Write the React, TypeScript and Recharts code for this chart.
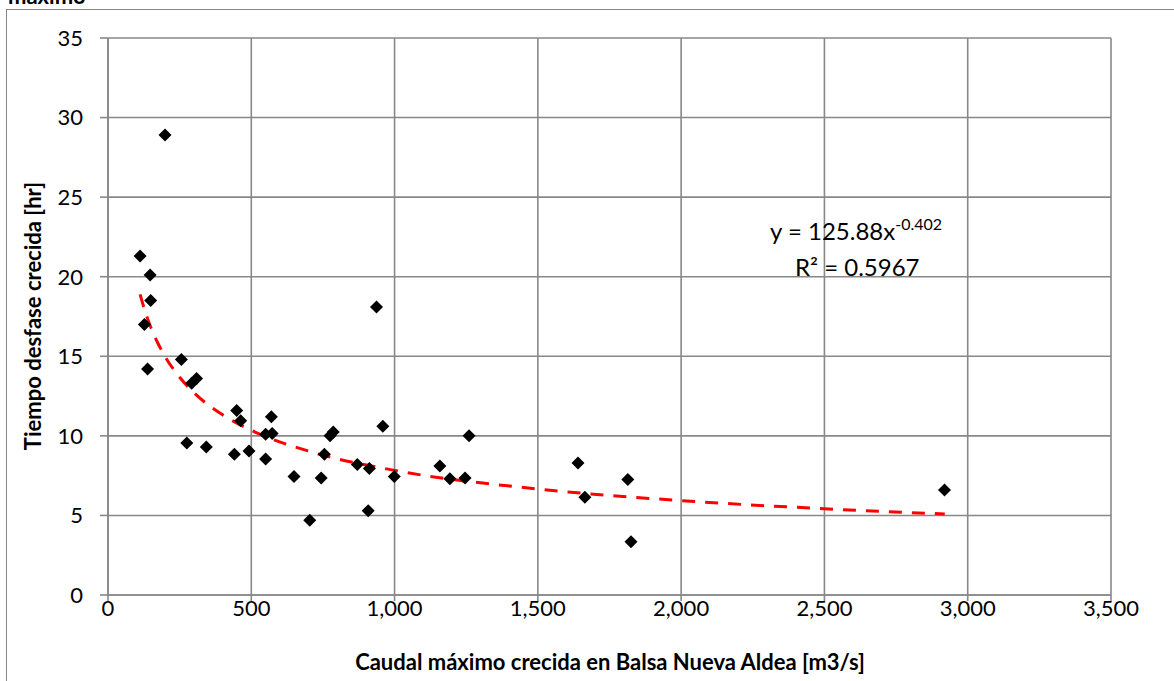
import { ComposedChart, Scatter, Line, XAxis, YAxis, CartesianGrid, Label } from "recharts"

// caudal maximo [m3/s] vs tiempo de desfase [hr]
const caudal = [
  112, 199, 147, 149, 127, 256, 138, 309, 292, 449, 463, 570, 550, 573, 275, 343, 441, 492, 550, 786,
  775, 959, 755, 649, 744, 870, 912, 999, 908, 704, 937, 1158, 1193, 1246, 1260, 1640, 1664, 1814, 1825, 2919,
]
const tiempo = [
  21.3, 28.9, 20.1, 18.5, 17.0, 14.8, 14.2, 13.6, 13.3, 11.6, 10.95, 11.2, 10.1, 10.15, 9.55, 9.3, 8.85, 9.05, 8.55, 10.25,
  10.0, 10.6, 8.85, 7.45, 7.35, 8.2, 7.95, 7.45, 5.3, 4.7, 18.1, 8.1, 7.3, 7.35, 10.0, 8.3, 6.15, 7.25, 3.35, 6.6,
]

// power trendline y = 125.88x^-0.402, values along the drawn curve
const trendX = [112, 130, 150, 175, 200, 250, 300, 400, 500, 700, 1000, 1500, 2000, 2500, 2920]
const trendY = [18.89, 17.79, 16.79, 15.79, 14.96, 13.68, 12.71, 11.32, 10.35, 9.04, 7.83, 6.66, 5.93, 5.42, 5.09]

const xTicks = [0, 500, 1000, 1500, 2000, 2500, 3000, 3500]
const yTicks = [0, 5, 10, 15, 20, 25, 30, 35]

const points = caudal.map((x, i) => ({ x, y: tiempo[i] }))
const trend = trendX.map((x, i) => ({ x, y: trendY[i] }))

const font = "Lato, 'Open Sans', sans-serif"
const grey = "#888888"

const Diamond = (props: any) => {
  const { cx, cy } = props
  const r = 6.5
  return <polygon points={`${cx},${cy - r} ${cx + r},${cy} ${cx},${cy + r} ${cx - r},${cy}`} fill="#000" />
}

export default function App() {
  return (
    <div style={{ position: "fixed", left: 0, top: 0, width: 1174, height: 681, overflow: "hidden", background: "#fff", fontFamily: font }}>
      <div style={{ position: "absolute", left: 6, top: 9, width: 1200, height: 700, border: `1.5px solid ${grey}`, boxSizing: "border-box" }} />
      <div style={{ position: "absolute", left: 8, top: -18, fontSize: 22, fontWeight: 700, color: "#000" }}>máximo</div>
      <div style={{ position: "absolute", left: 0, top: 0 }}>
        <ComposedChart width={1174} height={681} margin={{ top: 38, right: 63, bottom: 0, left: 0 }}>
          <CartesianGrid stroke={grey} strokeWidth={1.6} horizontalValues={yTicks} verticalValues={xTicks} />
          <XAxis
            type="number"
            dataKey="x"
            domain={[0, 3500]}
            ticks={xTicks}
            height={86}
            tickSize={6}
            tickMargin={-1}
            stroke={grey}
            strokeWidth={1.6}
            tick={{ fill: "#000", fontSize: 22, fontFamily: font }}
            tickFormatter={(v: number) => v.toLocaleString("en-US")}
            allowDataOverflow
          >
            <Label
              content={() => (
                <text x={610} y={670} textAnchor="middle" fontSize={22} fontWeight={700} fontFamily={font} fill="#000">
                  Caudal máximo crecida en Balsa Nueva Aldea [m3/s]
                </text>
              )}
            />
          </XAxis>
          <YAxis
            type="number"
            dataKey="y"
            domain={[0, 35]}
            ticks={yTicks}
            width={108}
            tickSize={8}
            tickMargin={17}
            stroke={grey}
            strokeWidth={1.6}
            tick={{ fill: "#000", fontSize: 22, fontFamily: font }}
            allowDataOverflow
          >
            <Label
              content={() => (
                <text
                  x={41}
                  y={316}
                  transform="rotate(-90, 41, 316)"
                  textAnchor="middle"
                  fontSize={22}
                  fontWeight={700}
                  fontFamily={font}
                  fill="#000"
                >
                  Tiempo desfase crecida [hr]
                </text>
              )}
            />
          </YAxis>
          <Line
            data={trend}
            dataKey="y"
            type="monotone"
            stroke="#ff0000"
            strokeWidth={3}
            strokeDasharray="13 10"
            dot={false}
            activeDot={false}
            isAnimationActive={false}
          />
          <Scatter data={points} dataKey="y" shape={Diamond} isAnimationActive={false} />
        </ComposedChart>
      </div>
      <div style={{ position: "absolute", left: 770, top: 214, fontSize: 24, color: "#000", whiteSpace: "nowrap" }}>
        y = 125.88x<span style={{ fontSize: 16, verticalAlign: 10 }}>-0.402</span>
      </div>
      <div style={{ position: "absolute", left: 795, top: 252, fontSize: 24, color: "#000", whiteSpace: "nowrap" }}>
        R² = 0.5967
      </div>
    </div>
  )
}
